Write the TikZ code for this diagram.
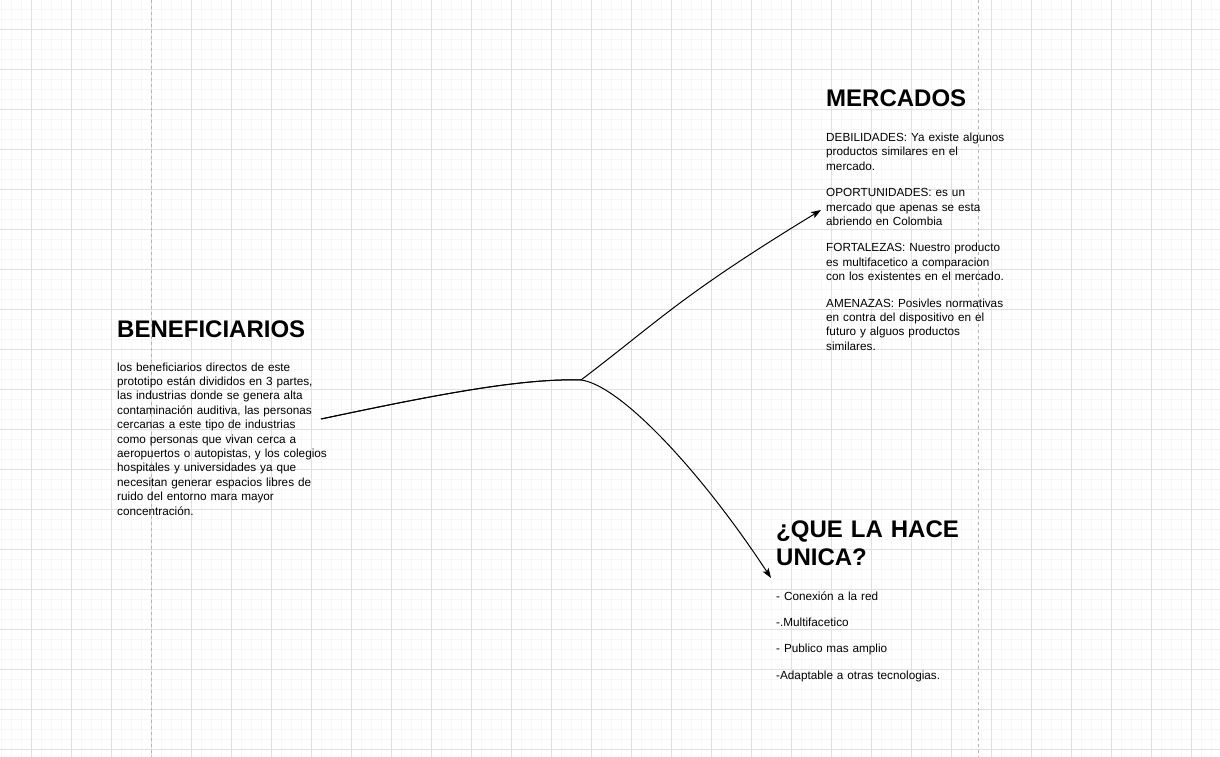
\documentclass[tikz,border=0pt]{standalone}
\usepackage{fontspec}
\setmainfont{Liberation Sans}
\usetikzlibrary{arrows.meta}

\definecolor{gridminor}{HTML}{F7F7F7}
\definecolor{gridmajor}{HTML}{E0E0E0}
\definecolor{pagebreak}{HTML}{B4B4B4}

\tikzset{
  heading/.style={font=\fontsize{24}{28.8}\selectfont\bfseries, anchor=base west, inner sep=0pt, text width=260pt, align=left},
  body/.style={font=\fontsize{11.75}{14.4}\selectfont, anchor=base west, inner sep=0pt, text width=240pt, align=left},
  link/.style={line width=1pt, -{Stealth[length=10pt,width=7pt,inset=2.5pt]}},
}

\begin{document}
\begin{tikzpicture}[x=1pt,y=-1pt]
      \useasboundingbox[fill=white] (0,0) rectangle (1220,757);
      % background grid
      \foreach \gx in {0,...,121}
        \draw[gridminor, line width=0.7pt] (1.5+10*\gx,0) -- (1.5+10*\gx,757);
      \foreach \gy in {0,...,75}
        \draw[gridminor, line width=0.7pt] (0,9.5+10*\gy) -- (1220,9.5+10*\gy);
      \foreach \gx in {0,...,29}
        \draw[gridmajor, line width=0.8pt] (31.5+40*\gx,0) -- (31.5+40*\gx,757);
      \foreach \gy in {0,...,18}
        \draw[gridmajor, line width=0.8pt] (0,29.5+40*\gy) -- (1220,29.5+40*\gy);
      \draw[pagebreak, line width=0.8pt, dash pattern=on 3pt off 3pt] (151.5,0) -- (151.5,757)
                 (978.5,0) -- (978.5,757);

      % beneficiarios
      \node[heading] (benef-title) at (117,337) {BENEFICIARIOS};
      \node[body] (benef-text) at (117,371) {los beneficiarios directos de este\\
        prototipo están divididos en 3 partes,\\
        las industrias donde se genera alta\\
        contaminación auditiva, las personas\\
        cercanas a este tipo de industrias\\
        como personas que vivan cerca a\\
        aeropuertos o autopistas, y los colegios\\
        hospitales y universidades ya que\\
        necesitan generar espacios libres de\\
        ruido del entorno mara mayor\\
        concentración.};

      % mercados
      \node[heading] (merc-title) at (826,107) {MERCADOS};
      \node[body] (merc-text) at (826,141.5) {DEBILIDADES: Ya existe algunos\\
        productos similares en el\\
        mercado.\\[12pt]
        OPORTUNIDADES: es un\\
        mercado que apenas se esta\\
        abriendo en Colombia\\[12pt]
        FORTALEZAS: Nuestro producto\\
        es multifacetico a comparacion\\
        con los existentes en el mercado.\\[12pt]
        AMENAZAS: Posivles normativas\\
        en contra del dispositivo en el\\
        futuro y alguos productos\\
        similares.};

      % que la hace unica
      \node[heading] (unica-title) at (776,537) {¿QUE LA HACE\\UNICA?};
      \node[body] (unica-text) at (776,600) {- Conexión a la red\\[12pt]
        -.Multifacetico\\[12pt]
        - Publico mas amplio\\[12pt]
        -Adaptable a otras tecnologias.};

      % connectors
      \coordinate (benef-out) at (321,419);
      \coordinate (hub) at (581,380);
      \coordinate (merc-in) at (821,210);
      \coordinate (unica-in) at (771,578);
      \draw[link] (benef-out) .. controls (430,396) and (520,378) .. (hub)
                 .. controls (660,320) and (680,296) .. (merc-in);
      \draw[link] (benef-out) .. controls (430,396) and (520,378) .. (hub)
                 .. controls (620,385) and (700,470) .. (unica-in);
\end{tikzpicture}
\end{document}
